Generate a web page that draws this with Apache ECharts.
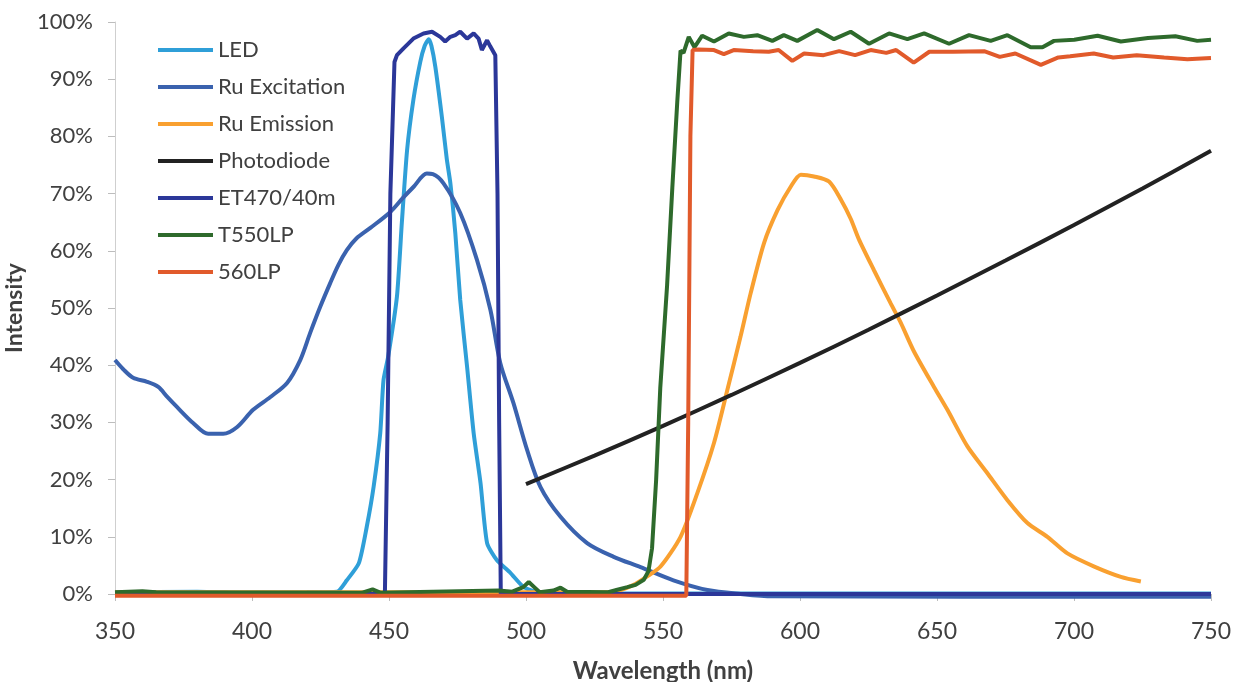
<!DOCTYPE html>
<html>
<head>
<meta charset="utf-8">
<script src="https://cdn.jsdelivr.net/npm/echarts@6/dist/echarts.min.js"></script>
<style>
  html, body { margin: 0; padding: 0; background: #ffffff; }
  #chart { width: 1234px; height: 682px; }
</style>
</head>
<body>
<div id="chart"></div>
<script>
// Spectra as [wavelength nm, intensity %]
const seriesNames = ['LED', 'Ru Excitation', 'Ru Emission', 'Photodiode', 'ET470/40m', 'T550LP', '560LP'];

const ledData = [
  [350, 0.3], [380, 0.4], [400, 0.2], [420, 0.3], [431, 0.4], [434.6, 2.4], [439, 5.4],
  [441.9, 11.8], [444.4, 18.8], [446.8, 28.1], [448, 37.4], [449.7, 41.5], [452.9, 52],
  [454.7, 65], [456.6, 77.6], [458.9, 86.4], [461.4, 93], [463, 95.8], [464.5, 97],
  [465.5, 95.8], [466.9, 92.2], [469.3, 83.4], [471.1, 76], [472.4, 71.8], [474.2, 63.1],
  [476, 51.4], [478.5, 39.7], [480.9, 28.1], [483.4, 19.4], [485.8, 8.9], [489.4, 5.9],
  [494.3, 3.7], [499.2, 1.2], [505.3, 0.2], [520, 0.1], [750, 0.1]
];

const ruExcitationData = [
  [350, 40.9], [353, 39.3], [356.6, 37.8], [361.7, 37.1], [365.8, 36.2], [369, 34.5],
  [372.6, 32.7], [378.5, 29.9], [384, 28.0], [389.5, 28.0], [394.6, 29.2], [400.4, 32.2],
  [406.6, 34.4], [412.8, 36.9], [417.6, 40.9], [421.2, 45.6], [424.9, 50.2], [428.5, 54.3],
  [431.5, 57.5], [434.6, 60.1], [438, 62.1], [443.2, 64.0], [450.5, 66.8], [455, 69.2],
  [459, 71.2], [463.8, 73.5], [466, 73.4], [469.9, 71.8], [476, 66.6], [482.1, 58.4],
  [487, 49.7], [490.6, 40.4], [495.4, 33.4], [500.4, 25.2], [505.3, 18.7], [512.6, 13.5],
  [522.3, 8.9], [532, 6.5], [541.8, 4.7], [553.8, 2.4], [566.2, 0.7], [578.3, 0.0],
  [590, -0.4], [750, -0.5]
];

const ruEmissionData = [
  [350, 0.3], [450, 0.3], [520, 0.3], [532, 0.4], [539.3, 1.6], [544, 3.0], [549.1, 4.8],
  [556.4, 10], [562.5, 17.6], [568.6, 26.4], [573.5, 35.7], [578.3, 45], [582, 52.6],
  [586.9, 61.4], [591.8, 67.1], [596.6, 71.2], [600.3, 73.3], [605.1, 73.0], [610.6, 72.1],
  [615, 68.9], [618.5, 65.6], [621.5, 62.0], [627, 56.6], [633.1, 50.8], [636.8, 47.4],
  [641.6, 42.4], [648.9, 36.2], [653.8, 32.2], [661.1, 25.8], [668.4, 21.1], [675.7, 16.4],
  [683, 12.4], [690.3, 10], [697.6, 7.1], [707.4, 4.8], [717.1, 3.0], [724.4, 2.2]
];

const photodiodeData = [
  [500, 19.2], [525, 24.2], [550, 29.4], [575, 34.8], [600, 40.4], [625, 46.2],
  [650, 52.2], [675, 58.3], [700, 64.5], [725, 70.9], [750, 77.5]
];

const et470Data = [
  [350, 0], [448.5, 0], [449.5, 30], [450.5, 70], [452, 93], [452.9, 94.2], [455.3, 95.4],
  [458.9, 97.1], [462.6, 98], [465.7, 98.3], [468.7, 97.4], [470.5, 96.6], [472.4, 97.4],
  [474.2, 97.7], [476, 98.3], [478.5, 97.1], [480.9, 98], [482.7, 97.1], [483.9, 95.1],
  [485.8, 96.8], [487, 95.7], [488.8, 94.2], [489.6, 70], [490.2, 30], [490.8, 0], [750, 0]
];

const t550Data = [
  [350, 0.3], [360, 0.5], [365, 0.3], [440, 0.2], [444, 0.8], [447, 0.2], [490, 0.6],
  [495, 0.4], [499, 1.2], [501, 2.1], [503, 1.2], [505, 0.3], [510, 0.6], [512.6, 1.1],
  [515, 0.4], [530, 0.3], [533, 0.7], [537, 1.2], [540, 1.6], [543, 2.5], [544.7, 4],
  [546, 8], [547.5, 20], [549, 36], [551.5, 54], [553.4, 71], [555.2, 86], [556.4, 95],
  [557.5, 94.6], [559.4, 97.4], [561.5, 95.6], [564.3, 97.6], [568.6, 96.6], [574, 98.0],
  [579.5, 97.4], [584.4, 97.7], [589.9, 96.7], [594.1, 97.7], [599, 96.7], [606.3, 98.6],
  [612.4, 97.0], [618.5, 98.3], [625.2, 96.2], [632.5, 98.0], [639.2, 97.0], [645.3, 98.0],
  [654.4, 96.2], [661.7, 97.7], [669.6, 96.7], [675.7, 97.7], [684.2, 95.6], [688.5, 95.6],
  [692.7, 96.7], [700.1, 96.9], [708.6, 97.6], [717.1, 96.6], [727, 97.2], [737, 97.5],
  [745, 96.7], [750, 96.9]
];

const lp560Data = [
  [350, -0.3], [558.5, -0.3], [559.2, 30], [560, 80], [560.8, 95.1], [562.9, 95.2],
  [568.6, 95.1], [572.2, 94.4], [575.8, 95.1], [582.9, 94.9], [588.6, 94.8], [592.2, 95.1],
  [597.2, 93.2], [601.5, 94.5], [608.6, 94.2], [614.3, 94.9], [620.1, 94.2], [625.8, 95.1],
  [631.5, 94.6], [635.1, 95.1], [641.5, 92.9], [647.2, 94.8], [655.8, 94.8], [667.2, 94.9],
  [672.9, 93.9], [678.6, 94.5], [687.9, 92.5], [694.3, 93.8], [698.6, 94.0], [707.2, 94.5],
  [714.3, 93.8], [722.9, 94.2], [732.9, 93.8], [741.4, 93.5], [750, 93.7]
];

const seriesData = [ledData, ruExcitationData, ruEmissionData, photodiodeData, et470Data, t550Data, lp560Data];
const seriesColors = ['#2f9fd8', '#3a62ae', '#f9a030', '#222222', '#2b3799', '#2e6a2c', '#e15a2b'];
const seriesSmooth = [0.2, 0.3, 0.25, 0.3, false, false, false];

const xTicks = { min: 350, max: 750, interval: 50 };
const yTicks = { min: 0, max: 100, interval: 10 };

const textColor = '#404040';
const fontFamily = 'Lato, "Open Sans", sans-serif';

const chart = echarts.init(document.getElementById('chart'), null, { renderer: 'canvas' });

chart.setOption({
  backgroundColor: '#ffffff',
  animation: false,
  textStyle: { fontFamily: fontFamily },
  grid: {
    left: 115, right: 23, top: 22, bottom: 88,
    containLabel: false,
    outerBoundsMode: 'none'
  },
  legend: {
    orient: 'vertical',
    left: 158,
    top: 37,
    padding: 0,
    itemWidth: 55,
    itemHeight: 4,
    itemGap: 11,
    icon: 'rect',
    textStyle: { fontSize: 22, color: textColor, lineHeight: 26, fontFamily: fontFamily, padding: [0, 0, 0, 0] },
    data: seriesNames
  },
  xAxis: {
    type: 'value',
    min: xTicks.min,
    max: xTicks.max,
    interval: xTicks.interval,
    name: 'Wavelength (nm)',
    nameLocation: 'middle',
    nameGap: 65,
    nameTextStyle: { fontSize: 24, fontWeight: 'bold', color: textColor, fontFamily: fontFamily },
    axisLine: { show: true, onZero: false, lineStyle: { color: '#cfcfcf', width: 1 } },
    axisTick: { show: true, length: 7, inside: false, lineStyle: { color: '#bdbdbd' } },
    axisLabel: { fontSize: 23, color: textColor, margin: 26, fontFamily: fontFamily },
    splitLine: { show: false }
  },
  yAxis: {
    type: 'value',
    min: yTicks.min,
    max: yTicks.max,
    interval: yTicks.interval,
    name: 'Intensity',
    nameLocation: 'middle',
    nameRotate: 90,
    nameGap: 72,
    nameTextStyle: { fontSize: 23, fontWeight: 'bold', color: textColor, fontFamily: fontFamily },
    axisLine: { show: true, lineStyle: { color: '#cfcfcf', width: 1 } },
    axisTick: { show: true, length: 7, inside: false, lineStyle: { color: '#bdbdbd' } },
    axisLabel: { fontSize: 22, color: textColor, margin: 22, formatter: '{value}%', fontFamily: fontFamily },
    splitLine: { show: false }
  },
  series: seriesNames.map((name, i) => ({
    name: name,
    type: 'line',
    data: seriesData[i],
    symbol: 'none',
    smooth: seriesSmooth[i],
    clip: false,
    color: seriesColors[i],
    lineStyle: { color: seriesColors[i], width: 4 },
    z: 2 + i
  }))
});
</script>
</body>
</html>
